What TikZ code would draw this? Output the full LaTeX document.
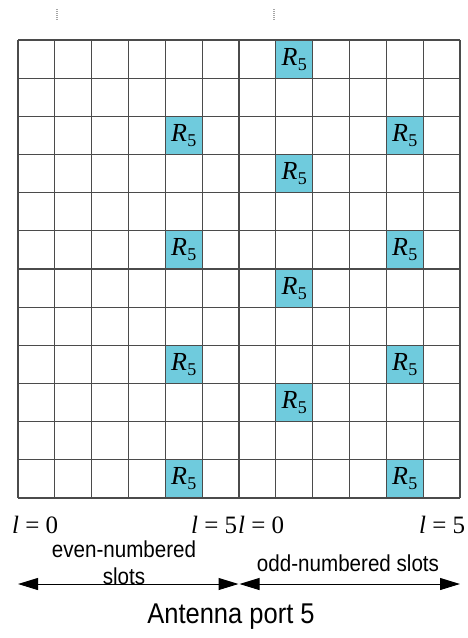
\documentclass[tikz,border=0pt]{standalone}
\usepackage{fontspec}
\setmainfont{Liberation Serif}
\newfontfamily\lsans{Liberation Sans}
\usetikzlibrary{arrows.meta}
\definecolor{cellc}{RGB}{111,203,221}
\definecolor{gridc}{RGB}{75,75,75}
\newcommand{\tallsans}[1]{\scalebox{1}[1.12]{#1}}
\begin{document}
\begin{tikzpicture}[x=1pt,y=-1pt,
  gline/.style={draw=gridc,line width=1.1pt},
  rcell/.style={fill=cellc,draw=none,minimum width=36.83pt,minimum height=38.17pt,inner sep=0pt,
    font=\fontsize{26}{30}\selectfont},
  lbl/.style={anchor=base west,inner sep=0pt,font=\fontsize{25}{30}\selectfont},
  slbl/.style={anchor=base,inner sep=0pt,font=\lsans\fontsize{20.6}{26}\selectfont},
  dimarrow/.style={draw=black,line width=1pt,{Triangle[length=20pt,width=12pt]}-{Triangle[length=20pt,width=12pt]}},
  tick/.style={draw=gray!70,line width=1.2pt,dash pattern=on 1pt off 1pt}]
\useasboundingbox (0,0) rectangle (468,638);
% highlighted cells
\foreach \c/\r in {7/0,4/2,10/2,7/3,4/5,10/5,7/6,4/8,10/8,7/9,4/11,10/11}{
  \node[rcell] (cell\c-\r) at ({18+(\c+0.5)*442/12},{40+(\r+0.5)*458/12})
    {{\itshape R}\kern0.5pt\raisebox{-5pt}{\fontsize{18}{18}\selectfont 5}};
}
% grid
\foreach \i in {0,...,12}{
  \draw[gline] ({18+\i*442/12},40) -- ({18+\i*442/12},498);
  \draw[gline] (18,{40+\i*458/12}) -- (460,{40+\i*458/12});
}
% small top marks
\coordinate (m1a) at (57,9); \coordinate (m1b) at (57,20);
\coordinate (m2a) at (274,9); \coordinate (m2b) at (274,20);
\draw[tick] (m1a) -- (m1b);
\draw[tick] (m2a) -- (m2b);
% l labels
\node[lbl] (la0) at (12,533) {{\itshape l} = 0};
\node[lbl] (la5) at (191,533) {{\itshape l} = 5};
\node[lbl] (lb0) at (238,533) {{\itshape l} = 0};
\node[lbl] (lb5) at (419,533) {{\itshape l} = 5};
% slot labels
\node[slbl] (even1) at (124,557) {\tallsans{even-numbered}};
\node[slbl] (even2) at (124,584) {\tallsans{slots}};
\node[slbl] (odd) at (348,571) {\tallsans{odd-numbered slots}};
% arrows
\coordinate (aL) at (18,584); \coordinate (aM1) at (238.5,584);
\coordinate (aM2) at (239.5,584); \coordinate (aR) at (460,584);
\draw[dimarrow] (aL) -- (aM1);
\draw[dimarrow] (aM2) -- (aR);
% title
\node[slbl,font=\lsans\fontsize{25.5}{30}\selectfont] (title) at (231,623) {\tallsans{Antenna port 5}};
\end{tikzpicture}
\end{document}
